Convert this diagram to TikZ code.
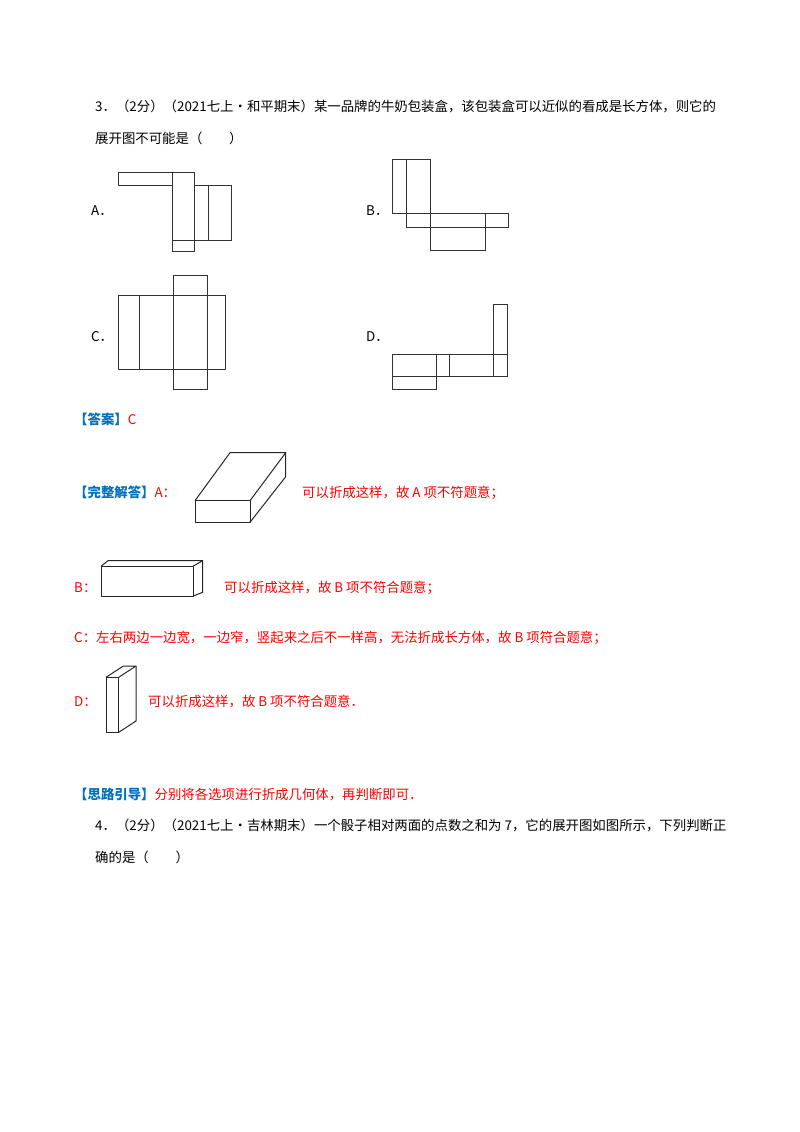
\documentclass[tikz,border=0pt]{standalone}
\usepackage{fontspec}
\setmainfont{Liberation Serif}
\newfontfamily\cjk{Noto Sans CJK SC}
\definecolor{ansblue}{RGB}{0,112,192}
\definecolor{ansred}{RGB}{255,0,0}
\begin{document}
\begin{tikzpicture}[x=1pt, y=-1pt, every node/.style={font=\cjk\fontsize{13.4}{15}\selectfont, inner sep=0pt, anchor=base west},
  net/.style={line width=0.9pt, draw=black!80},
  box/.style={line width=1pt, draw=black!85, line join=round},
  blue/.style={text=ansblue, font=\cjk\bfseries\fontsize{13.4}{15}\selectfont},
  red/.style={text=ansred}]
\useasboundingbox (0,0) rectangle (800,1132);

% Question 3
\node (q3a) at (95,111) {3．（2分）（2021七上·和平期末）某一品牌的牛奶包装盒，该包装盒可以近似的看成是长方体，则它的};
\node (q3b) at (95,143) {展开图不可能是（\quad\quad）};

% Option labels
\node (la) at (91,215) {A．};
\node (lb) at (366,215) {B．};
\node (lc) at (91,341) {C．};
\node (ld) at (366,341) {D．};

% Net A
\draw[net] (118.3,172.3) rectangle (172,185.7);
\draw[net] (172,172.3) rectangle (194.3,251);
\draw[net] (172,240) -- (194.3,240);
\draw[net] (194.3,185.7) rectangle (231,240);
\draw[net] (208,185.7) -- (208,240);

% Net B
\draw[net] (392,159.3) rectangle (406.7,213.3);
\draw[net] (406.7,159.3) rectangle (430,227.7);
\draw[net] (406.7,213.3) rectangle (508.3,227.7);
\draw[net] (485.3,213.3) -- (485.3,227.7);
\draw[net] (430,227.7) rectangle (485.3,250.7);

% Net C
\draw[net] (118.7,295.7) rectangle (225.3,369.7);
\draw[net] (139.7,295.7) -- (139.7,369.7);
\draw[net] (207,295.7) -- (207,369.7);
\draw[net] (173.7,275.7) rectangle (207,389);

% Net D
\draw[net] (392.7,354) rectangle (507.3,376.7);
\foreach \x in {436.7,449,493.3} \draw[net] (\x,354) -- (\x,376.7);
\draw[net] (493.3,304) rectangle (507.3,354);
\draw[net] (392.7,376.7) rectangle (436.7,389.3);

% Answer
\node[blue] (ans) at (74,424) {【答案】\textcolor{ansred}{\mdseries C}};

% Full solution, A
\node[blue] (sola) at (74,497) {【完整解答】\textcolor{ansred}{\mdseries A：}};
\draw[box] (195,500.7) rectangle (250,522.3);
\draw[box] (195,500.7) -- (230,452.7) -- (285.7,452.7) -- (250,500.7);
\draw[box] (285.7,452.7) -- (285.7,476.7) -- (250,522.3);
\node[red] (ta) at (302,497) {可以折成这样，故 A 项不符题意；};

% B
\node[red] (sb) at (74,592) {B：};
\draw[box] (101.3,566) rectangle (193.3,596);
\draw[box] (101.3,566) -- (108,560.7) -- (202.7,560.7) -- (193.3,566);
\draw[box] (202.7,560.7) -- (202.7,592.3) -- (193.3,596);
\node[red] (tb) at (224,592) {可以折成这样，故 B 项不符合题意；};

% C
\node[red] (tc) at (74,642) {C：左右两边一边宽，一边窄，竖起来之后不一样高，无法折成长方体，故 B 项符合题意；};

% D
\node[red] (sd) at (74,706) {D：};
\draw[box] (106,677.3) rectangle (118.7,732.3);
\draw[box] (106,677.3) -- (123.3,666) -- (136,666) -- (118.7,677.3);
\draw[box] (136,666) -- (136,721) -- (118.7,732.3);
\node[red] (td) at (148,706) {可以折成这样，故 B 项不符合题意．};

% Hint
\node[blue] (hint) at (74,799) {【思路引导】\textcolor{ansred}{\mdseries 分别将各选项进行折成几何体，再判断即可．}};

% Question 4
\node (q4a) at (95,830) {4．（2分）（2021七上·吉林期末）一个骰子相对两面的点数之和为 7，它的展开图如图所示，下列判断正};
\node (q4b) at (95,862) {确的是（\quad\quad）};
\end{tikzpicture}
\end{document}
